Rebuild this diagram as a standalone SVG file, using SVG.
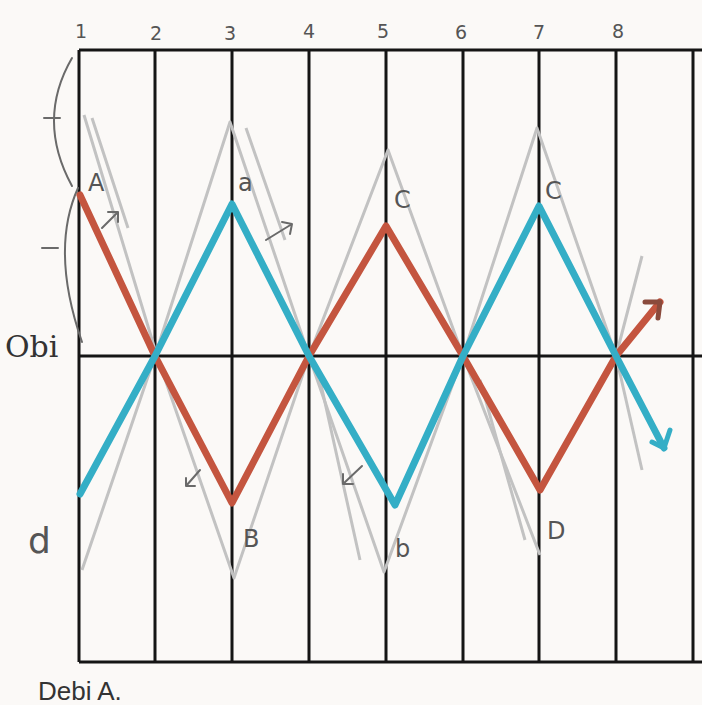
<svg xmlns="http://www.w3.org/2000/svg" width="702" height="705" viewBox="0 0 702 705">
<style>
.grid{stroke:#151515;stroke-width:3;fill:none}
.gray{stroke:#c2c2c2;stroke-width:3;fill:none;stroke-linejoin:round}
.pen{stroke:#6a6a6a;stroke-width:2;fill:none;stroke-linecap:round;stroke-linejoin:round}
.red{stroke:#c4553f;stroke-width:7;fill:none;stroke-linejoin:round;stroke-linecap:round}
.cyan{stroke:#34aec6;stroke-width:7;fill:none;stroke-linejoin:round;stroke-linecap:round}
.num{font-family:"DejaVu Sans",sans-serif;font-size:19px;fill:#555}
.lbl{font-family:"DejaVu Sans",sans-serif;font-size:24px;fill:#555}
</style>
<rect width="702" height="705" fill="#fbf9f7"/>
<g id="grid">
<line class="grid" x1="79" y1="50" x2="702" y2="50"/>
<line class="grid" x1="79" y1="356" x2="702" y2="356"/>
<line class="grid" x1="79" y1="662" x2="702" y2="662"/>
<line class="grid" x1="79" y1="50" x2="79" y2="662"/>
<line class="grid" x1="155" y1="50" x2="155" y2="662"/>
<line class="grid" x1="232" y1="50" x2="232" y2="662"/>
<line class="grid" x1="309" y1="50" x2="309" y2="662"/>
<line class="grid" x1="386" y1="50" x2="386" y2="662"/>
<line class="grid" x1="463" y1="50" x2="463" y2="662"/>
<line class="grid" x1="539" y1="50" x2="539" y2="662"/>
<line class="grid" x1="616" y1="50" x2="616" y2="662"/>
<line class="grid" x1="693" y1="50" x2="693" y2="662"/>
</g>
<g id="numbers">
<text class="num" x="75" y="38">1</text>
<text class="num" x="150" y="40">2</text>
<text class="num" x="224" y="40">3</text>
<text class="num" x="303" y="38">4</text>
<text class="num" x="377" y="38">5</text>
<text class="num" x="455" y="39">6</text>
<text class="num" x="533" y="39">7</text>
<text class="num" x="612" y="38">8</text>
</g>
<g id="pencil">
<polyline class="gray" points="84,115 157,356 234,578 309,356 388,150 463,356 540,555"/>
<polyline class="gray" points="82,570 155,356 230,122 309,356 384,572 463,356 537,128 616,356 642,256"/>
<line class="gray" x1="616" y1="356" x2="642" y2="470"/>
<path class="gray" d="M92,118 L128,228 M246,128 L285,240"/>
<path class="gray" d="M320,380 L360,560 M480,380 L525,540"/>
<path class="pen" d="M72,58 Q36,120 72,186"/>
<path class="pen" d="M78,188 Q50,250 82,342"/>
<path class="pen" d="M44,118 L60,118 M42,248 L58,248"/>
<path class="pen" d="M102,228 L118,212 M108,212 L118,212 L118,222"/>
<path class="pen" d="M266,240 L292,224 M282,222 L292,224 L290,234"/>
<path class="pen" d="M200,470 L186,486 M186,478 L186,486 L195,486"/>
<path class="pen" d="M362,466 L343,484 M343,474 L343,484 L353,484"/>
</g>
<g id="connectors">
<polyline class="red" points="80,195 155,356 232,503 309,356 386,226 463,356 540,490 616,356 660,302"/>
<polyline class="red" points="645,302 660,302 658,318" style="stroke:#8a4a3c;stroke-width:5"/>
<polyline class="cyan" points="80,494 155,356 232,204 309,356 395,505 463,356 539,206 616,356 664,448"/>
<polyline class="cyan" points="652,442 664,448 670,430" style="stroke-width:5"/>
</g>
<g id="labels">
<text class="lbl" x="88" y="191">A</text>
<text class="lbl" x="238" y="191">a</text>
<text class="lbl" x="394" y="208">C</text>
<text class="lbl" x="545" y="199">C</text>
<text class="lbl" x="243" y="547">B</text>
<text class="lbl" x="395" y="557">b</text>
<text class="lbl" x="547" y="539">D</text>
<text class="lbl" x="28" y="553" style="font-size:36px">d</text>
<text x="5" y="357" style="font-family:'DejaVu Serif',serif;font-size:30px;fill:#333">Obi</text>
<text x="38" y="700" style="font-family:'Liberation Sans',sans-serif;font-size:26px;fill:#333">Debi A.</text>
</g>
</svg>
